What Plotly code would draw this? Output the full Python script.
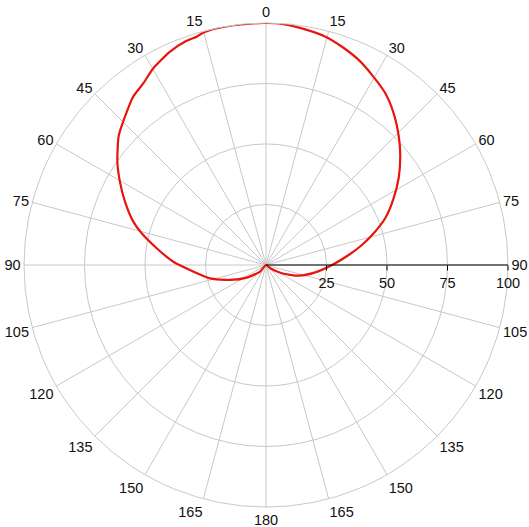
import plotly.graph_objects as go

# Measured pattern (theta clockwise from top, degrees; r in percent)
theta_deg = [0, 3.8, 8.6, 14.6, 19.2, 24.3, 29.2, 34.8, 40.1, 46, 50.7, 56.8, 62.4,
             68.6, 73.6, 78.2, 83.1, 90, 98.5, 108.1, 117.5, 127, 180,
             222, 236.7, 247.4, 256.6, 266.2, 272, 278.7, 284.3, 288.1, 294.2,
             299.7, 304.8, 311.3, 316.5, 321.7, 326, 330.2, 335.8, 340.5, 343.1,
             345, 348.3, 352.3, 356.2, 360]
r_pct = [100, 99.8, 98.9, 97.5, 95.5, 93.0, 89.9, 86.4, 81.9, 76.3, 71.7, 65.5, 59.5,
         52.9, 46.4, 40.5, 34.4, 27.3, 20.6, 14.2, 7.4, 2.2, 0,
         3.7, 9.5, 16.1, 23.8, 31.5, 38.3, 45.7, 53.0, 57.7, 63.9,
         69.5, 74.8, 81.0, 84.6, 88.6, 90.6, 93.7, 96.7, 98.3, 98.6,
         99.5, 99.9, 100, 100, 100]

angle_tickvals = list(range(0, 360, 15))
angle_ticktext = [str(v) if v <= 180 else str(360 - v) for v in angle_tickvals]
radial_tickvals = [25, 50, 75, 100]

fig = go.Figure()
fig.add_trace(go.Scatterpolar(
    r=r_pct, theta=theta_deg, mode="lines",
    line=dict(color="#e8150e", width=2.2, shape="spline", smoothing=0.6),
    showlegend=False,
))

grid = "#c8c8c8"
fig.update_layout(
    width=529, height=527,
    margin=dict(l=24, r=21, t=23, b=20),
    paper_bgcolor="white",
    font=dict(family="Liberation Sans, Arial, sans-serif", size=14.5, color="#111"),
    polar=dict(
        bgcolor="white",
        domain=dict(x=[0, 1], y=[0, 1]),
        angularaxis=dict(
            rotation=90, direction="clockwise",
            tickmode="array", tickvals=angle_tickvals, ticktext=angle_ticktext,
            showgrid=True, gridcolor=grid, gridwidth=1,
            showline=True, linecolor=grid, linewidth=1,
            ticks="",
        ),
        radialaxis=dict(
            range=[0, 100], angle=0, side="clockwise",
            tickmode="array", tickvals=radial_tickvals,
            showgrid=True, gridcolor=grid, gridwidth=1,
            showline=True, linecolor="black", linewidth=1,
            ticks="outside", ticklen=5, tickcolor="black",
        ),
    ),
)

fig.write_html("out.html", config={"displayModeBar": False},
               post_script="document.body.style.margin='0';document.body.style.overflow='hidden';")
